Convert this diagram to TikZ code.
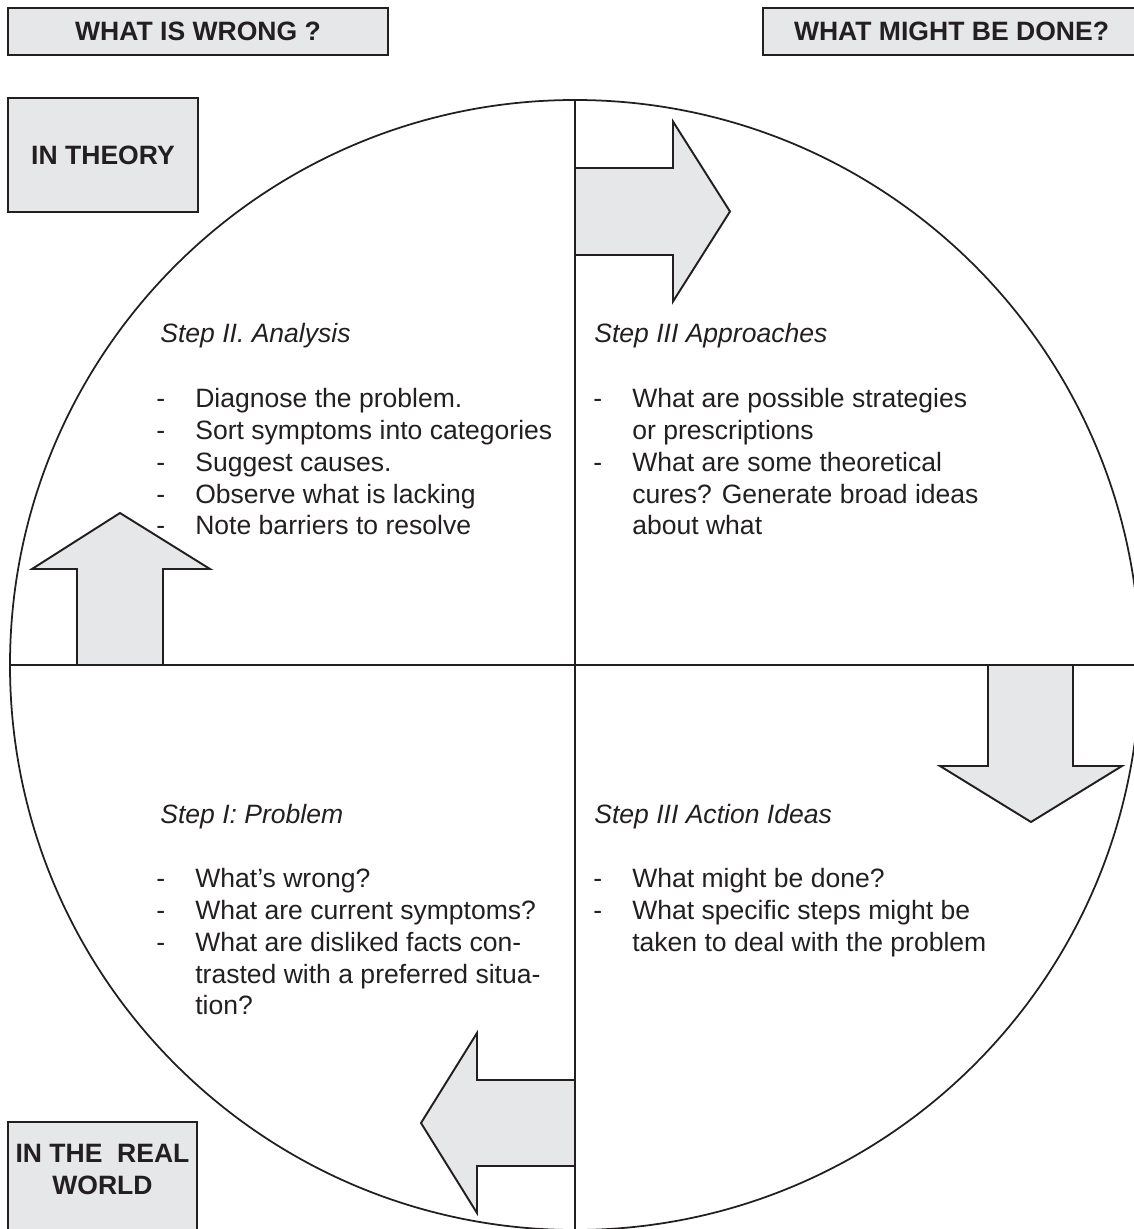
\documentclass[tikz,border=0pt]{standalone}
\usepackage{fontspec}
\setmainfont{Liberation Sans}
\usepackage{tikz}
\usetikzlibrary{positioning}

\definecolor{boxgray}{RGB}{230,231,232}
\definecolor{inkblack}{RGB}{35,31,32}

\newcommand{\dashitem}{\makebox[0.78cm][l]{-}}
\newcommand{\nodash}{\makebox[0.78cm][l]{}}

\begin{document}
\begin{tikzpicture}[
    header/.style={rectangle, draw=inkblack, fill=boxgray, line width=1.2pt, inner sep=0pt,
                   font=\fontsize{15.1}{18.1}\selectfont\bfseries, text=inkblack},
    blockarrow/.style={draw=inkblack, fill=boxgray, line width=1.1pt, line join=miter},
    axis/.style={draw=inkblack, line width=1.5pt},
    steptitle/.style={font=\fontsize{15.1}{18.1}\selectfont\itshape, text=inkblack, inner sep=0pt},
    steplist/.style={font=\fontsize{15.1}{18.1}\selectfont, text=inkblack, inner sep=0pt, align=left}
]

    % Page frame
    \useasboundingbox (-11.5, -11.28) rectangle (11.18, 13.3);
    \clip (-11.5, -11.28) rectangle (11.18, 13.3);

    % Wheel and axes
    \node[circle, draw=inkblack, line width=1pt, minimum size=22.6cm, outer sep=0pt] (wheel) at (0, 0) {};
    \draw[axis] (wheel.north) -- (wheel.south);
    \draw[axis] (wheel.west) -- (wheel.east);

    % Header boxes
    \node[header, minimum width=7.6cm, minimum height=0.94cm] (wrong) at (-7.54, 12.67) {WHAT IS WRONG ?};
    \node[header, minimum width=7.54cm, minimum height=0.94cm] (done) at (7.53, 12.67) {WHAT MIGHT BE DONE?};
    \node[header, minimum width=3.8cm, minimum height=2.28cm] (theory) at (-9.44, 10.2) {IN THEORY};
    \node[header, align=center, anchor=north, minimum width=3.78cm, text height=1.44cm, text depth=1cm]
        (real) at (-9.45, -9.12) {IN THE\ \ REAL\\WORLD};

    % Block arrows
    \draw[blockarrow] (0, 9.94) -- (1.96, 9.94) -- (1.96, 10.87) -- (3.1, 9.07)
        -- (1.96, 7.27) -- (1.96, 8.2) -- (0, 8.2) -- cycle;
    \draw[blockarrow] (-9.96, 0) -- (-9.96, 1.92) -- (-10.86, 1.92) -- (-9.1, 3.04)
        -- (-7.3, 1.92) -- (-8.24, 1.92) -- (-8.24, 0) -- cycle;
    \draw[blockarrow] (8.26, 0) -- (8.26, -2.02) -- (7.3, -2.02) -- (9.12, -3.14)
        -- (10.94, -2.02) -- (9.96, -2.02) -- (9.96, 0) -- cycle;
    \draw[blockarrow] (0, -8.3) -- (-1.96, -8.3) -- (-1.96, -7.36) -- (-3.08, -9.16)
        -- (-1.96, -10.96) -- (-1.96, -10.02) -- (0, -10.02) -- cycle;

    % Step II (top left)
    \node[steptitle, anchor=base west] (analysis) at (-8.3, 6.46) {Step II. Analysis};
    \node[steplist, anchor=north west] (analysislist) at (-8.38, 5.54) {%
        \dashitem Diagnose the problem.\\
        \dashitem Sort symptoms into categories\\
        \dashitem Suggest causes.\\
        \dashitem Observe what is lacking\\
        \dashitem Note barriers to resolve};

    % Step III (top right)
    \node[steptitle, anchor=base west] (approaches) at (0.38, 6.46) {Step III Approaches};
    \node[steplist, anchor=north west] (approacheslist) at (0.36, 5.54) {%
        \dashitem What are possible strategies\\
        \nodash or prescriptions\\
        \dashitem What are some theoretical\\
        \nodash cures? Generate broad ideas\\
        \nodash about what};

    % Step I (bottom left)
    \node[steptitle, anchor=base west] (problem) at (-8.3, -3.16) {Step I: Problem};
    \node[steplist, anchor=north west] (problemlist) at (-8.38, -4.06) {%
        \dashitem What’s wrong?\\
        \dashitem What are current symptoms?\\
        \dashitem What are disliked facts con-\\
        \nodash trasted with a preferred situa-\\
        \nodash tion?};

    % Step III (bottom right)
    \node[steptitle, anchor=base west] (action) at (0.38, -3.16) {Step III Action Ideas};
    \node[steplist, anchor=north west] (actionlist) at (0.36, -4.06) {%
        \dashitem What might be done?\\
        \dashitem What specific steps might be\\
        \nodash taken to deal with the problem};

\end{tikzpicture}
\end{document}
